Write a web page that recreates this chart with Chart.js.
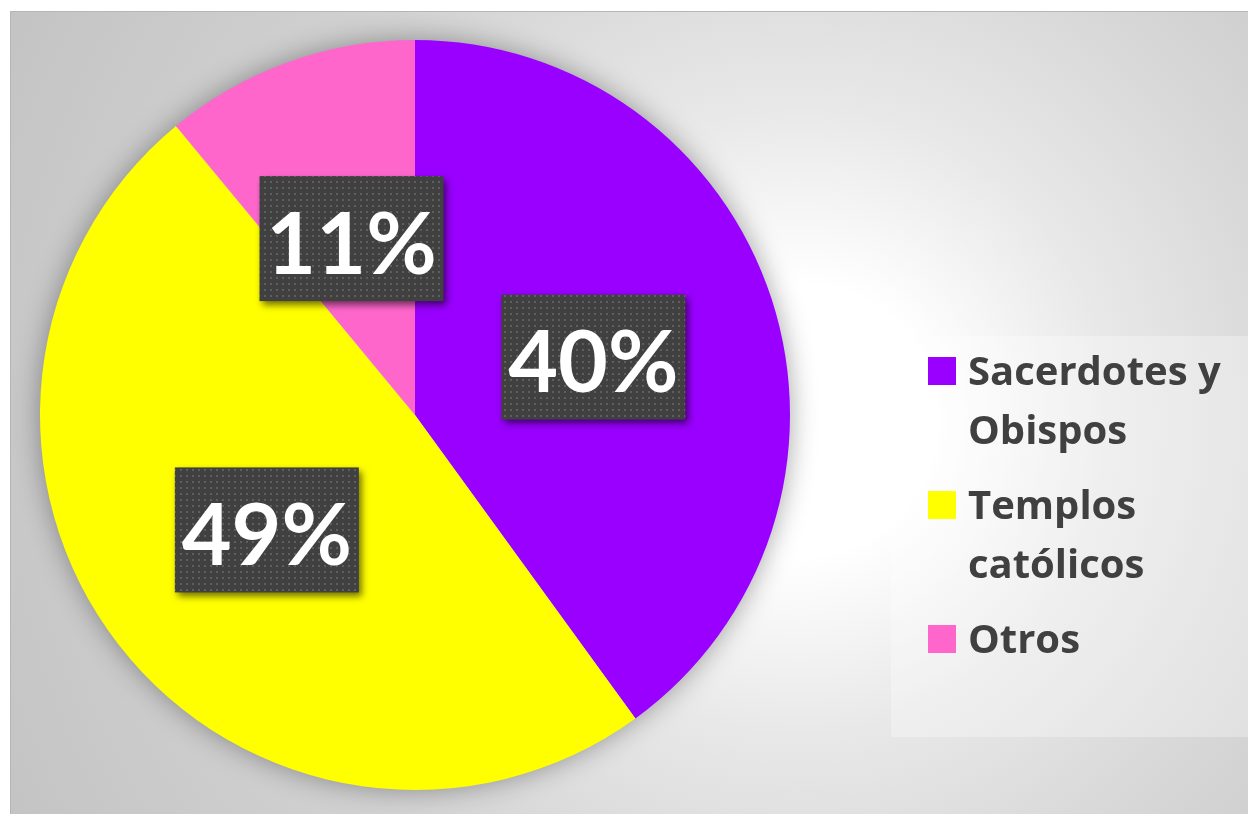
<!DOCTYPE html>
<html>
<head>
<meta charset="utf-8">
<script src="https://cdn.jsdelivr.net/npm/chart.js@4.4.0/dist/chart.umd.min.js"></script>
<style>
  body { margin: 0; background: #fff; }
  .box { position: absolute; left: 10px; top: 11px; width: 1238px; height: 803px; }
</style>
</head>
<body>
<div class="box"><canvas id="pieChart" width="1238" height="803"></canvas></div>
<script>
const categories = ['Sacerdotes y Obispos', 'Templos católicos', 'Otros'];
const percents = [40, 49, 11];
const sliceColors = ['#9900ff', '#ffff00', '#ff66cc'];

const FONT = 'Lato, "Open Sans", sans-serif';
const LEGEND_FONT = '"Open Sans", Lato, sans-serif';

// fondo con degradado radial + borde
const backgroundPlugin = {
  id: 'fondo',
  beforeDraw(chart) {
    const ctx = chart.ctx;
    const w = chart.width, h = chart.height;
    const g = ctx.createRadialGradient(790, 409, 0, 790, 409, 900);
    g.addColorStop(0, '#ffffff');
    g.addColorStop(0.15, '#ffffff');
    g.addColorStop(0.35, '#e8e8e8');
    g.addColorStop(0.55, '#d8d8d8');
    g.addColorStop(0.67, '#d0d0d0');
    g.addColorStop(1, '#c3c3c3');
    ctx.save();
    ctx.fillStyle = g;
    ctx.fillRect(0, 0, w, h);
    ctx.strokeStyle = '#b5b5b5';
    ctx.lineWidth = 1;
    ctx.beginPath();
    ctx.moveTo(0.5, h);
    ctx.lineTo(0.5, 0.5);
    ctx.lineTo(w, 0.5);
    ctx.stroke();
    ctx.restore();
  },
  // sombra del pastel
  beforeDatasetsDraw(chart) {
    const arc = chart.getDatasetMeta(0).data[0];
    if (!arc) return;
    const ctx = chart.ctx;
    ctx.save();
    ctx.shadowColor = 'rgba(0,0,0,0.38)';
    ctx.shadowBlur = 28;
    ctx.fillStyle = '#cccccc';
    ctx.beginPath();
    ctx.arc(arc.x, arc.y, arc.outerRadius - 1, 0, Math.PI * 2);
    ctx.fill();
    ctx.restore();
  }
};

function dotPattern(ctx) {
  const c = document.createElement('canvas');
  c.width = 6; c.height = 6;
  const p = c.getContext('2d');
  p.fillStyle = '#404040';
  p.fillRect(0, 0, 6, 6);
  p.fillStyle = '#5f5f5f';
  p.fillRect(2, 2, 2, 2);
  return ctx.createPattern(c, 'repeat');
}

// etiquetas de porcentaje en cajas oscuras
const labelPlugin = {
  id: 'etiquetas',
  afterDatasetsDraw(chart) {
    const ctx = chart.ctx;
    const meta = chart.getDatasetMeta(0);
    const pattern = dotPattern(ctx);
    meta.data.forEach((arc, i) => {
      const pos = arc.tooltipPosition();
      const txt = percents[i] + '%';
      ctx.save();
      ctx.font = 'bold 86px ' + FONT;
      const bw = 184, bh = 125;
      const bx = pos.x - bw / 2, by = pos.y - bh / 2;
      ctx.shadowColor = 'rgba(0,0,0,0.55)';
      ctx.shadowBlur = 7;
      ctx.shadowOffsetX = 3;
      ctx.shadowOffsetY = 4;
      ctx.fillStyle = pattern;
      ctx.fillRect(bx, by, bw, bh);
      ctx.shadowColor = 'transparent';
      ctx.fillStyle = '#ffffff';
      ctx.textAlign = 'center';
      ctx.textBaseline = 'alphabetic';
      ctx.fillText(txt, pos.x, pos.y + 35);
      ctx.restore();
    });
  }
};

// leyenda a la derecha con texto en varias líneas
const legendPlugin = {
  id: 'leyenda',
  afterDraw(chart) {
    const ctx = chart.ctx;
    ctx.save();
    ctx.fillStyle = 'rgba(255,255,255,0.3)';
    ctx.fillRect(881, 325, 357, 401);
    ctx.font = 'bold 40px ' + LEGEND_FONT;
    ctx.textBaseline = 'alphabetic';
    const maxW = 275;
    let y = 374;
    chart.data.labels.forEach((label, i) => {
      const words = label.split(' ');
      const lines = [];
      let line = '';
      words.forEach(wd => {
        const test = line ? line + ' ' + wd : wd;
        if (ctx.measureText(test).width > maxW && line) {
          lines.push(line);
          line = wd;
        } else {
          line = test;
        }
      });
      lines.push(line);
      ctx.fillStyle = chart.data.datasets[0].backgroundColor[i];
      ctx.fillRect(918, y - 28, 28, 28);
      ctx.fillStyle = '#404040';
      lines.forEach((l, k) => {
        ctx.fillText(l, 958, y + k * 59);
      });
      y += (lines.length - 1) * 59 + 75;
    });
    ctx.restore();
  }
};

const ctx = document.getElementById('pieChart').getContext('2d');
const myChart = new Chart(ctx, {
  type: 'pie',
  data: {
    labels: categories,
    datasets: [{
      data: percents,
      backgroundColor: sliceColors,
      borderWidth: 0
    }]
  },
  options: {
    responsive: false,
    animation: false,
    layout: { padding: { left: 30, top: 29, right: 458, bottom: 24 } },
    plugins: {
      legend: { display: false },
      tooltip: { enabled: false }
    }
  },
  plugins: [backgroundPlugin, labelPlugin, legendPlugin]
});
</script>
</body>
</html>
